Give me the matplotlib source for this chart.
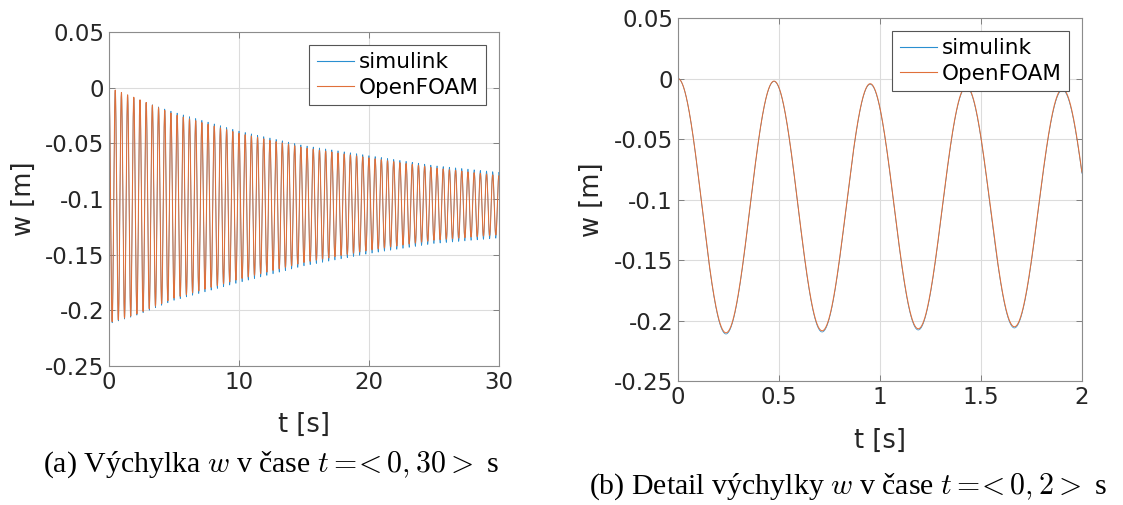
import numpy as np
import matplotlib
matplotlib.use('Agg')
import matplotlib.pyplot as plt

# obálka kmitů (horní / dolní extrémy)
env_t = [0, 2, 5, 10, 15, 20, 25, 30]
sim_horni = [0.0, -0.010, -0.022, -0.039, -0.052, -0.061, -0.070, -0.076]
sim_dolni = [-0.212, -0.205, -0.191, -0.175, -0.160, -0.149, -0.140, -0.135]
foam_horni = [0.0, -0.009, -0.024, -0.041, -0.054, -0.063, -0.072, -0.079]
foam_dolni = [-0.211, -0.204, -0.189, -0.172, -0.157, -0.146, -0.137, -0.132]
perioda = 0.476  # s

yticks = [0.05, 0, -0.05, -0.1, -0.15, -0.2, -0.25]
ytick_labels = ['0.05', '0', '-0.05', '-0.1', '-0.15', '-0.2', '-0.25']
xticks_a = [0, 10, 20, 30]
xticks_b = [0, 0.5, 1, 1.5, 2]
xtick_labels_b = ['0', '0.5', '1', '1.5', '2']

modra = '#2a8fd0'
oranzova = '#e0703a'


def signal(t, horni, dolni):
    h = np.interp(t, env_t, horni)
    d = np.interp(t, env_t, dolni)
    stred = (h + d) / 2
    amp = (h - d) / 2
    return stred + amp * np.cos(2 * np.pi * t / perioda)


plt.rcParams['font.family'] = 'DejaVu Sans'
plt.rcParams['mathtext.fontset'] = 'cm'

fig = plt.figure(figsize=(11.23, 5.05), dpi=100)
ax1 = fig.add_axes([0.0971, 0.2752, 0.3473, 0.6614])
ax2 = fig.add_axes([0.6037, 0.2455, 0.3597, 0.7188])

t_a = np.linspace(0, 30, 12000)
t_b = np.linspace(0, 2, 2000)

for ax, t, xt, xl, xlim, pad in [(ax1, t_a, xticks_a, [str(v) for v in xticks_a], 30, 13),
                                 (ax2, t_b, xticks_b, xtick_labels_b, 2, 14)]:
    ax.plot(t, signal(t, sim_horni, sim_dolni), color=modra, lw=0.5, label='simulink')
    ax.plot(t, signal(t, foam_horni, foam_dolni), color=oranzova, lw=0.75, label='OpenFOAM')
    ax.set_xlim(0, xlim)
    ax.set_ylim(-0.25, 0.05)
    ax.set_xticks(xt)
    ax.set_xticklabels(xl)
    ax.set_yticks(yticks)
    ax.set_yticklabels(ytick_labels)
    ax.grid(True, color='#dcdcdc', lw=0.8)
    ax.tick_params(direction='in', labelsize=16.5, labelcolor='#262626', length=4, width=0.7,
                   top=True, right=True, color='#808080')
    for s in ax.spines.values():
        s.set_color('#8c8c8c')
        s.set_linewidth(0.8)
    ax.set_ylabel('w [m]', fontsize=18.5, color='#262626', labelpad=6)
    ax.set_xlabel('t [s]', fontsize=18.5, color='#262626', labelpad=pad)
    leg = ax.legend(loc='upper right', fontsize=15.5, handlelength=1.75, handletextpad=0.2,
                    borderpad=0.35, labelspacing=0.25, fancybox=False, framealpha=1,
                    borderaxespad=0.6)
    leg.get_frame().set_edgecolor('#555555')
    leg.get_frame().set_linewidth(0.8)
    for ln in leg.get_lines():
        ln.set_linewidth(0.8)

fig.text(0.241, 0.079, r'(a) Výchylka $w$ v čase $t =\!\!< 0, 30 >$ s', ha='center', va='center',
         fontsize=21.5, family='Liberation Serif')
fig.text(0.755, 0.037, r'(b) Detail výchylky $w$ v čase $t =\!\!< 0, 2 >$ s', ha='center', va='center',
         fontsize=21.5, family='Liberation Serif')

fig.savefig('out.png', dpi=100)
